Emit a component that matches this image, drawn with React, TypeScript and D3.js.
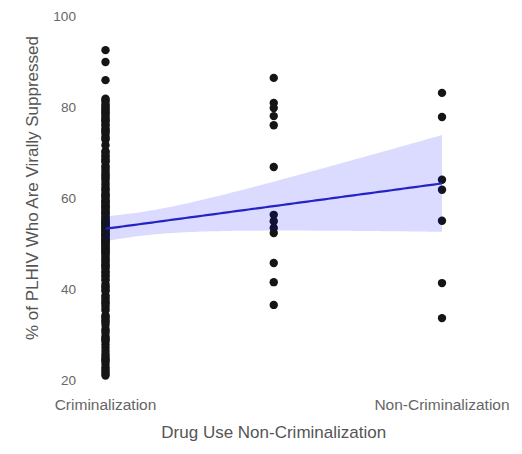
import React from "react";
import * as d3 from "d3";

// Tick labels
const xTickLabels = ["Criminalization", "Non-Criminalization"];
const xTickValues = [0, 1];
const yTickValues = [20, 40, 60, 80, 100];

// % of PLHIV virally suppressed, by drug-use policy group (x: 0 = criminalization, 0.5 = partial, 1 = non-criminalization)
const criminalization = [
  21.0, 22.3, 23.5, 24.1, 25.7, 26.4, 27.8, 28.5, 29.6, 30.4,
  31.2, 32.7, 33.5, 34.2, 35.8, 36.4, 37.1, 38.6, 39.5, 40.3,
  41.1, 41.9, 42.8, 43.6, 44.9, 45.4, 46.2, 47.5, 48.1, 48.9,
  49.7, 50.5, 51.3, 51.9, 52.6, 53.4, 54.1, 54.8, 55.6, 56.3,
  57.2, 57.9, 58.5, 59.4, 60.2, 61.1, 61.7, 62.4, 63.5, 64.1,
  64.9, 65.7, 66.2, 67.1, 67.9, 68.5, 69.4, 70.3, 72.8, 73.5,
  74.2, 75.3, 75.9, 76.8, 77.5, 78.4, 79.0, 79.8, 80.5, 81.1,
  81.8, 85.9, 89.9, 92.5,
  21.8, 24.7, 29.1, 33.0, 37.7, 43.1,
  21.4, 22.8, 24.4, 25.2, 27.1, 28.9,
  30.8, 32.1, 33.9, 35.3, 36.9, 38.2, 39.8,
  40.6, 42.2, 43.9, 44.5, 45.9, 47.0, 48.4, 49.2,
  50.1, 50.8, 52.0, 52.9, 53.7, 54.6, 55.3, 56.8, 58.0, 59.1,
  60.7, 62.0, 63.0, 64.5, 65.3, 66.7, 68.1, 69.0,
  70.0, 73.1, 74.6, 76.2, 77.1, 78.8, 79.5,
  80.2, 81.5, 71.6, 74.9, 77.9,
  45.1, 46.6, 47.8, 48.6, 49.5, 50.3, 51.0, 51.6, 52.2, 53.1,
  53.9, 54.4, 55.0, 55.9, 56.6, 57.5, 58.3, 59.0, 59.8, 60.5,
];
const partial = [86.4, 80.9, 79.8, 78.0, 76.0, 66.8, 56.3, 54.9, 53.4, 52.3, 45.7, 41.5, 36.5];
const nonCriminalization = [83.1, 77.8, 64.0, 61.8, 55.0, 41.3, 33.6];

const groupX = [0, 0.5, 1];

export default function App() {
  const width = 522;
  const height = 454;

  const x = d3.scaleLinear().domain([0, 1]).range([105.5, 442]);
  const y = d3.scaleLinear().domain([20, 100]).range([380, 16]);

  const points: { x: number; y: number }[] = [];
  [criminalization, partial, nonCriminalization].forEach((arr, gi) => {
    arr.forEach((v) => points.push({ x: groupX[gi], y: v }));
  });

  // linear model fit with 95% CI (like geom_smooth(method = "lm"))
  const n = points.length;
  const xbar = d3.mean(points, (p) => p.x) as number;
  const ybar = d3.mean(points, (p) => p.y) as number;
  const sxx = d3.sum(points, (p) => (p.x - xbar) ** 2);
  const sxy = d3.sum(points, (p) => (p.x - xbar) * (p.y - ybar));
  const b = sxy / sxx;
  const a = ybar - b * xbar;
  const sse = d3.sum(points, (p) => (p.y - (a + b * p.x)) ** 2);
  const s = Math.sqrt(sse / (n - 2));
  const tq = 1.974;
  const grid = d3.range(0, 1.0001, 1 / 80);
  const band = grid.map((gx) => {
    const fit = a + b * gx;
    const se = s * Math.sqrt(1 / n + (gx - xbar) ** 2 / sxx);
    return { x: gx, fit, lo: fit - tq * se, hi: fit + tq * se };
  });

  const area = d3
    .area<{ x: number; lo: number; hi: number }>()
    .x((d) => x(d.x))
    .y0((d) => y(d.lo))
    .y1((d) => y(d.hi));
  const line = d3
    .line<{ x: number; fit: number }>()
    .x((d) => x(d.x))
    .y((d) => y(d.fit));

  const font = "'Liberation Sans', Arial, sans-serif";

  return (
    <svg
      width={width}
      height={height}
      style={{ position: "absolute", left: 0, top: 0, background: "#fff" }}
    >
      <rect x={0} y={0} width={width} height={height} fill="#fff" />
      {points.map((p, i) => (
        <circle key={i} cx={x(p.x)} cy={y(p.y)} r={4.2} fill="#151515" />
      ))}
      <path d={area(band) || ""} fill="#0000ff" fillOpacity={0.14} />
      <path d={line(band) || ""} fill="none" stroke="#2424c4" strokeWidth={2.2} />

      {yTickValues.map((t) => (
        <text
          key={t}
          x={76}
          y={y(t)}
          dy="0.35em"
          textAnchor="end"
          fontFamily={font}
          fontSize={13.6}
          fill="#666"
        >
          {t}
        </text>
      ))}
      {xTickValues.map((t, i) => (
        <text
          key={t}
          x={x(t)}
          y={410}
          textAnchor="middle"
          fontFamily={font}
          fontSize={15.5}
          fill="#666"
        >
          {xTickLabels[i]}
        </text>
      ))}
      <text
        x={(x(0) + x(1)) / 2}
        y={438}
        textAnchor="middle"
        fontFamily={font}
        fontSize={17}
        fill="#555"
      >
        Drug Use Non-Criminalization
      </text>
      <text
        transform={`translate(38,188) rotate(-90)`}
        textAnchor="middle"
        fontFamily={font}
        fontSize={17}
        fill="#555"
      >
        % of PLHIV Who Are Virally Suppressed
      </text>
    </svg>
  );
}
